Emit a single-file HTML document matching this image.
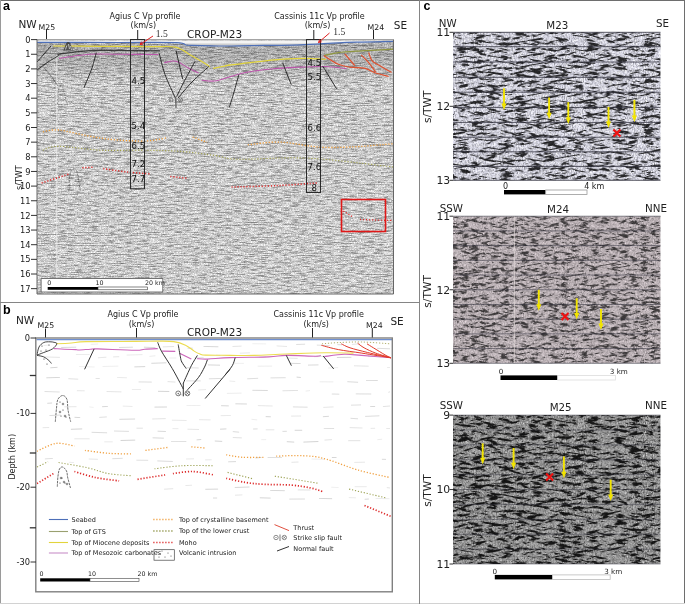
<!DOCTYPE html>
<html><head><meta charset="utf-8"><title>Figure</title>
<style>html,body{margin:0;padding:0;background:#fff;} svg{display:block;}</style>
</head><body>
<svg width="685" height="604" viewBox="0 0 685 604" font-family="'DejaVu Sans', 'Liberation Sans', sans-serif"><defs><filter id="fa" x="0" y="0" width="1" height="1" color-interpolation-filters="sRGB">
<feTurbulence type="fractalNoise" baseFrequency="0.12 0.9" numOctaves="3" seed="7"/>
<feColorMatrix type="matrix" values="1 0 0 0 0  1 0 0 0 0  1 0 0 0 0  0 0 0 0 1"/>
<feComponentTransfer result="base"><feFuncR type="table" tableValues="0.450 0.475 0.500 0.525 0.550 0.575 0.600 0.650 0.700 0.750 0.800 0.825 0.850 0.875 0.900 0.905 0.910 0.915 0.920 0.925 0.930"/><feFuncG type="table" tableValues="0.450 0.475 0.500 0.525 0.550 0.575 0.600 0.650 0.700 0.750 0.800 0.825 0.850 0.875 0.900 0.905 0.910 0.915 0.920 0.925 0.930"/><feFuncB type="table" tableValues="0.450 0.475 0.500 0.525 0.550 0.575 0.600 0.650 0.700 0.750 0.800 0.825 0.850 0.875 0.900 0.905 0.910 0.915 0.920 0.925 0.930"/></feComponentTransfer>
<feTurbulence type="fractalNoise" baseFrequency="0.7 1.0" numOctaves="2" seed="4"/>
<feColorMatrix type="matrix" values="1 0 0 0 0  1 0 0 0 0  1 0 0 0 0  0 0 0 0 1" result="n2"/>
<feComposite in="base" in2="n2" operator="arithmetic" k1="0.6" k2="0.7" k3="0" k4="0"/>
<feColorMatrix type="matrix" values="1 0 0 0 0  0 1 0 0 0  0 0 1 0 0  0 0 0 0 1"/>
</filter><filter id="fc1a" x="0" y="0" width="1" height="1" color-interpolation-filters="sRGB">
<feTurbulence type="fractalNoise" baseFrequency="0.07 0.4" numOctaves="3" seed="11"/>
<feColorMatrix type="matrix" values="1 0 0 0 0  1 0 0 0 0  1 0 0 0 0  0 0 0 0 1"/>
<feComponentTransfer result="base"><feFuncR type="table" tableValues="0.150 0.150 0.150 0.150 0.150 0.150 0.150 0.200 0.714 0.855 0.880 0.882 0.884 0.886 0.888 0.890 0.892 0.894 0.896 0.898 0.900"/><feFuncG type="table" tableValues="0.150 0.150 0.150 0.150 0.150 0.150 0.150 0.200 0.714 0.855 0.880 0.882 0.884 0.886 0.888 0.890 0.892 0.894 0.896 0.898 0.900"/><feFuncB type="table" tableValues="0.159 0.159 0.159 0.159 0.159 0.159 0.159 0.212 0.757 0.906 0.933 0.935 0.937 0.939 0.941 0.943 0.946 0.948 0.950 0.952 0.954"/></feComponentTransfer>
<feTurbulence type="fractalNoise" baseFrequency="0.9 0.6" numOctaves="2" seed="3"/>
<feColorMatrix type="matrix" values="1 0 0 0 0  1 0 0 0 0  1 0 0 0 0  0 0 0 0 1" result="n2"/>
<feComposite in="base" in2="n2" operator="arithmetic" k1="1.4" k2="0.30000000000000004" k3="0" k4="0"/>
<feColorMatrix type="matrix" values="1 0 0 0 0  0 1 0 0 0  0 0 1 0 0  0 0 0 0 1"/>
</filter><filter id="fc1b" x="0" y="0" width="1" height="1" color-interpolation-filters="sRGB">
<feTurbulence type="fractalNoise" baseFrequency="0.07 0.4" numOctaves="3" seed="12"/>
<feColorMatrix type="matrix" values="1 0 0 0 0  1 0 0 0 0  1 0 0 0 0  0 0 0 0 1"/>
<feComponentTransfer result="base"><feFuncR type="table" tableValues="0.150 0.150 0.150 0.150 0.150 0.150 0.150 0.200 0.714 0.855 0.880 0.882 0.884 0.886 0.888 0.890 0.892 0.894 0.896 0.898 0.900"/><feFuncG type="table" tableValues="0.150 0.150 0.150 0.150 0.150 0.150 0.150 0.200 0.714 0.855 0.880 0.882 0.884 0.886 0.888 0.890 0.892 0.894 0.896 0.898 0.900"/><feFuncB type="table" tableValues="0.159 0.159 0.159 0.159 0.159 0.159 0.159 0.212 0.757 0.906 0.933 0.935 0.937 0.939 0.941 0.943 0.946 0.948 0.950 0.952 0.954"/></feComponentTransfer>
<feTurbulence type="fractalNoise" baseFrequency="0.9 0.6" numOctaves="2" seed="4"/>
<feColorMatrix type="matrix" values="1 0 0 0 0  1 0 0 0 0  1 0 0 0 0  0 0 0 0 1" result="n2"/>
<feComposite in="base" in2="n2" operator="arithmetic" k1="1.4" k2="0.30000000000000004" k3="0" k4="0"/>
<feColorMatrix type="matrix" values="1 0 0 0 0  0 1 0 0 0  0 0 1 0 0  0 0 0 0 1"/>
</filter><filter id="fc2a" x="0" y="0" width="1" height="1" color-interpolation-filters="sRGB">
<feTurbulence type="fractalNoise" baseFrequency="0.1 0.45" numOctaves="4" seed="5"/>
<feColorMatrix type="matrix" values="1 0 0 0 0  1 0 0 0 0  1 0 0 0 0  0 0 0 0 1"/>
<feComponentTransfer result="base"><feFuncR type="table" tableValues="0.240 0.240 0.240 0.240 0.240 0.240 0.248 0.357 0.671 0.748 0.775 0.776 0.777 0.778 0.779 0.780 0.781 0.782 0.783 0.784 0.785"/><feFuncG type="table" tableValues="0.228 0.228 0.228 0.228 0.228 0.228 0.236 0.339 0.638 0.710 0.736 0.737 0.738 0.739 0.740 0.741 0.742 0.743 0.744 0.745 0.746"/><feFuncB type="table" tableValues="0.233 0.233 0.233 0.233 0.233 0.233 0.241 0.346 0.651 0.725 0.752 0.753 0.754 0.755 0.756 0.757 0.758 0.759 0.760 0.760 0.761"/></feComponentTransfer>
<feTurbulence type="fractalNoise" baseFrequency="0.9 0.6" numOctaves="2" seed="9"/>
<feColorMatrix type="matrix" values="1 0 0 0 0  1 0 0 0 0  1 0 0 0 0  0 0 0 0 1" result="n2"/>
<feComposite in="base" in2="n2" operator="arithmetic" k1="1.0" k2="0.5" k3="0" k4="0"/>
<feColorMatrix type="matrix" values="1 0 0 0 0  0 1 0 0 0  0 0 1 0 0  0 0 0 0 1"/>
</filter><filter id="fc2b" x="0" y="0" width="1" height="1" color-interpolation-filters="sRGB">
<feTurbulence type="fractalNoise" baseFrequency="0.1 0.45" numOctaves="4" seed="6"/>
<feColorMatrix type="matrix" values="1 0 0 0 0  1 0 0 0 0  1 0 0 0 0  0 0 0 0 1"/>
<feComponentTransfer result="base"><feFuncR type="table" tableValues="0.240 0.240 0.240 0.240 0.240 0.240 0.248 0.357 0.671 0.748 0.775 0.776 0.777 0.778 0.779 0.780 0.781 0.782 0.783 0.784 0.785"/><feFuncG type="table" tableValues="0.228 0.228 0.228 0.228 0.228 0.228 0.236 0.339 0.638 0.710 0.736 0.737 0.738 0.739 0.740 0.741 0.742 0.743 0.744 0.745 0.746"/><feFuncB type="table" tableValues="0.233 0.233 0.233 0.233 0.233 0.233 0.241 0.346 0.651 0.725 0.752 0.753 0.754 0.755 0.756 0.757 0.758 0.759 0.760 0.760 0.761"/></feComponentTransfer>
<feTurbulence type="fractalNoise" baseFrequency="0.9 0.6" numOctaves="2" seed="10"/>
<feColorMatrix type="matrix" values="1 0 0 0 0  1 0 0 0 0  1 0 0 0 0  0 0 0 0 1" result="n2"/>
<feComposite in="base" in2="n2" operator="arithmetic" k1="1.0" k2="0.5" k3="0" k4="0"/>
<feColorMatrix type="matrix" values="1 0 0 0 0  0 1 0 0 0  0 0 1 0 0  0 0 0 0 1"/>
</filter><filter id="fc3a" x="0" y="0" width="1" height="1" color-interpolation-filters="sRGB">
<feTurbulence type="fractalNoise" baseFrequency="0.07 0.36" numOctaves="4" seed="21"/>
<feColorMatrix type="matrix" values="1 0 0 0 0  1 0 0 0 0  1 0 0 0 0  0 0 0 0 1"/>
<feComponentTransfer result="base"><feFuncR type="table" tableValues="0.080 0.080 0.080 0.080 0.080 0.080 0.080 0.120 0.489 0.603 0.640 0.642 0.644 0.646 0.648 0.650 0.652 0.654 0.656 0.658 0.660"/><feFuncG type="table" tableValues="0.080 0.080 0.080 0.080 0.080 0.080 0.080 0.120 0.489 0.603 0.640 0.642 0.644 0.646 0.648 0.650 0.652 0.654 0.656 0.658 0.660"/><feFuncB type="table" tableValues="0.080 0.080 0.080 0.080 0.080 0.080 0.080 0.120 0.489 0.603 0.640 0.642 0.644 0.646 0.648 0.650 0.652 0.654 0.656 0.658 0.660"/></feComponentTransfer>
<feTurbulence type="fractalNoise" baseFrequency="0.9 0.6" numOctaves="2" seed="13"/>
<feColorMatrix type="matrix" values="1 0 0 0 0  1 0 0 0 0  1 0 0 0 0  0 0 0 0 1" result="n2"/>
<feComposite in="base" in2="n2" operator="arithmetic" k1="1.7" k2="0.15000000000000002" k3="0" k4="0"/>
<feColorMatrix type="matrix" values="1 0 0 0 0  0 1 0 0 0  0 0 1 0 0  0 0 0 0 1"/>
</filter><filter id="fc3b" x="0" y="0" width="1" height="1" color-interpolation-filters="sRGB">
<feTurbulence type="fractalNoise" baseFrequency="0.07 0.36" numOctaves="4" seed="23"/>
<feColorMatrix type="matrix" values="1 0 0 0 0  1 0 0 0 0  1 0 0 0 0  0 0 0 0 1"/>
<feComponentTransfer result="base"><feFuncR type="table" tableValues="0.080 0.080 0.080 0.080 0.080 0.080 0.080 0.120 0.489 0.603 0.640 0.642 0.644 0.646 0.648 0.650 0.652 0.654 0.656 0.658 0.660"/><feFuncG type="table" tableValues="0.080 0.080 0.080 0.080 0.080 0.080 0.080 0.120 0.489 0.603 0.640 0.642 0.644 0.646 0.648 0.650 0.652 0.654 0.656 0.658 0.660"/><feFuncB type="table" tableValues="0.080 0.080 0.080 0.080 0.080 0.080 0.080 0.120 0.489 0.603 0.640 0.642 0.644 0.646 0.648 0.650 0.652 0.654 0.656 0.658 0.660"/></feComponentTransfer>
<feTurbulence type="fractalNoise" baseFrequency="0.9 0.6" numOctaves="2" seed="15"/>
<feColorMatrix type="matrix" values="1 0 0 0 0  1 0 0 0 0  1 0 0 0 0  0 0 0 0 1" result="n2"/>
<feComposite in="base" in2="n2" operator="arithmetic" k1="1.7" k2="0.15000000000000002" k3="0" k4="0"/>
<feColorMatrix type="matrix" values="1 0 0 0 0  0 1 0 0 0  0 0 1 0 0  0 0 0 0 1"/>
</filter><clipPath id="cp1"><rect x="453" y="32.3" width="207.5" height="148"/></clipPath><clipPath id="cp2"><rect x="453" y="216.2" width="207.5" height="147.1"/></clipPath><clipPath id="cp3"><rect x="453" y="415.1" width="207.5" height="148.9"/></clipPath></defs><line x1="0" y1="0.5" x2="685" y2="0.5" stroke="#6e6e6e" stroke-width="1" />
<line x1="684.5" y1="0" x2="684.5" y2="604" stroke="#6e6e6e" stroke-width="1" />
<line x1="0.5" y1="0" x2="0.5" y2="604" stroke="#9a9a9a" stroke-width="1" />
<line x1="0" y1="603.5" x2="685" y2="603.5" stroke="#d2d2d2" stroke-width="1" />
<line x1="419.5" y1="0" x2="419.5" y2="604" stroke="#858585" stroke-width="1" />
<line x1="0" y1="302.5" x2="419.5" y2="302.5" stroke="#858585" stroke-width="1" />
<text x="3" y="10.3" font-size="12.5" text-anchor="start" font-weight="bold" fill="#000" font-family="Liberation Sans, sans-serif">a</text>
<text x="18.4" y="28.4" font-size="10.5" text-anchor="start" font-weight="normal" fill="#222" >NW</text>
<text x="38.5" y="29.8" font-size="7.8" text-anchor="start" font-weight="normal" fill="#222" >M25</text>
<line x1="46.5" y1="30" x2="46.5" y2="39.5" stroke="#222" stroke-width="1" />
<text x="145" y="19" font-size="8" text-anchor="middle" font-weight="normal" fill="#222" >Agius C Vp profile</text>
<text x="143.3" y="27.5" font-size="8" text-anchor="middle" font-weight="normal" fill="#222" >(km/s)</text>
<line x1="137.7" y1="30" x2="137.7" y2="39.5" stroke="#222" stroke-width="1" />
<text x="155.8" y="36.7" font-size="9.6" text-anchor="start" font-weight="normal" fill="#333" font-family="Liberation Serif, serif">1.5</text>
<text x="187" y="37.8" font-size="10.5" text-anchor="start" font-weight="normal" fill="#222" >CROP-M23</text>
<text x="319.5" y="18.5" font-size="8" text-anchor="middle" font-weight="normal" fill="#222" >Cassinis 11c Vp profile</text>
<text x="317.5" y="27.5" font-size="8" text-anchor="middle" font-weight="normal" fill="#222" >(km/s)</text>
<line x1="313.8" y1="30" x2="313.8" y2="39.5" stroke="#222" stroke-width="1" />
<text x="333.3" y="34.9" font-size="9.6" text-anchor="start" font-weight="normal" fill="#333" font-family="Liberation Serif, serif">1.5</text>
<text x="367.5" y="29.5" font-size="7.8" text-anchor="start" font-weight="normal" fill="#222" >M24</text>
<line x1="373.5" y1="30" x2="373.5" y2="39.5" stroke="#222" stroke-width="1" />
<text x="393.8" y="28.8" font-size="10.5" text-anchor="start" font-weight="normal" fill="#222" >SE</text>
<rect x="37" y="40.2" width="356.5" height="253.8" filter="url(#fa)"/>
<path d="M37 40.5H393V41.2C370 41.5 350 42.5 338 42.7C325 43.5 315 44.3 300 44.8C270 45.5 240 46 225 46C210 46 195 45.5 191 45.3C185 44 180 43 176.7 42.4H37Z" fill="#f4f4f4"/>
<linearGradient id="gtop" x1="0" y1="0" x2="0" y2="1"><stop offset="0" stop-color="#000" stop-opacity="0.16"/><stop offset="0.5" stop-color="#000" stop-opacity="0.12"/><stop offset="1" stop-color="#000" stop-opacity="0"/></linearGradient>
<rect x="37" y="43.5" width="356.5" height="40" fill="url(#gtop)"/>
<line x1="56.8" y1="55" x2="56.8" y2="292" stroke="#f2f2f2" stroke-width="1" opacity="0.8"/>
<line x1="37" y1="39.6" x2="393.5" y2="39.6" stroke="#a4a4a4" stroke-width="1.2" />
<path d="M37 42.4C50.8 42.4 96.8 42.5 120 42.5C143.2 42.5 165.3 42.2 176.3 42.6C187.3 43 183.3 44.5 185.8 45C188.3 45.5 184.8 45.1 191.3 45.3C197.8 45.5 215.2 46 225 46C234.8 46 237.5 45.8 250 45.6C262.5 45.4 285.3 45.3 300 44.8C314.7 44.3 328.1 43.2 338.4 42.8C348.7 42.3 352.6 42.3 361.7 42.1C370.8 41.9 387.8 41.5 393 41.4" fill="none" stroke="#4d6fb8" stroke-width="1.2" />
<path d="M53.2 46C61 46 83.9 46.2 100 46.3C116.1 46.4 137.4 46.6 150 46.7C162.6 46.9 168.6 45.7 175.5 47.2C182.4 48.7 186 52.5 191.3 55.5C196.6 58.5 204.4 63 207.4 65C210.4 67 209.2 66.8 209.6 67.2" fill="none" stroke="#e2d43c" stroke-width="1.2" />
<path d="M213.2 68.4L230 65" fill="none" stroke="#e2d43c" stroke-width="1.2" />
<path d="M225 65.7C229.9 65.1 244.5 63.2 254.2 62.1C263.9 61 274.9 59.8 283.4 59.2C291.9 58.6 298.2 58.4 305.3 58.4C312.4 58.4 322.6 59.2 326 59.4" fill="none" stroke="#e2d43c" stroke-width="1.2" />
<path d="M57.4 54.3C61 53.8 72.3 52.3 78.8 51.6C85.3 50.9 87.8 50.5 96.3 50.3C104.8 50.1 119.4 50.5 130 50.6C140.6 50.7 155 50.8 160 50.8" fill="none" stroke="#222" stroke-width="1.3" opacity="0.8"/>
<path d="M59 58.4C62.3 57.9 72.6 56.2 78.8 55.5C85 54.8 86.9 54.2 96.3 54C105.7 53.8 124.6 54.3 135 54.4C145.4 54.5 154.6 54.5 158.5 54.5" fill="none" stroke="#bb55aa" stroke-width="1.1" />
<path d="M164.3 62.8C165.6 62.5 170 61.1 172.3 61C174.6 60.9 175.5 60.8 178.2 62C180.9 63.2 185 66.2 188.4 68C191.8 69.8 196.9 72.2 198.6 73" fill="none" stroke="#bb55aa" stroke-width="1.1" />
<path d="M201.5 80.3C203.7 80.4 209.9 81.6 214.7 81C219.4 80.4 224.6 78.2 230 76.7C235.4 75.2 239.7 73.6 246.9 72.3C254.1 71 264.7 69.5 273.2 68.7C281.7 67.9 289.4 67.6 298 67.2C306.6 66.8 316.9 66.3 325 66.5C333.1 66.7 342.9 68.2 346.5 68.6" fill="none" stroke="#bb55aa" stroke-width="1.1" />
<path d="M324.3 55.5C326.6 55 332.2 53.4 338.4 52.6C344.6 51.8 352.6 51.4 361.7 50.8C370.8 50.2 387.8 49.4 393 49.1" fill="none" stroke="#8f9640" stroke-width="1.3" />
<path d="M323.8 55.5C326.2 57 334 62.3 338.4 64.3C342.8 66.2 345.5 66.5 350 67.2C354.5 67.9 360.9 67.4 365.2 68.4C369.5 69.4 371.8 71.7 375.7 73C379.6 74.3 386.5 75.9 388.6 76.5" fill="none" stroke="#e0502e" stroke-width="1.2" />
<path d="M344.8 53.8L354.7 65.5" fill="none" stroke="#e0502e" stroke-width="1.2" />
<path d="M361.1 54.9C362.2 56 365.2 58.6 367.6 61.4C370 64.2 374.4 70.2 375.7 71.9" fill="none" stroke="#e0502e" stroke-width="1.2" />
<path d="M368.7 52.6C369.3 54 370.2 58.6 372.2 60.8C374.1 63 377.2 64 380.4 66C383.6 68 389.6 71.4 391.5 72.5" fill="none" stroke="#e0502e" stroke-width="1.2" />
<path d="M37 62C38.2 60.7 41.7 56.7 44 54C46.3 51.3 49.8 47.3 51 46" fill="none" stroke="#2a2a2a" stroke-width="1" />
<path d="M37 70C38.8 68.7 44.6 64.3 48 62C51.4 59.7 55.8 57.4 57.6 56.2C59.4 55 58.8 55 59 54.8" fill="none" stroke="#2a2a2a" stroke-width="1" />
<path d="M96.3 52.6C95.6 55.2 94 62.2 92 68C90 73.8 85.3 84.3 84 87.6" fill="none" stroke="#2a2a2a" stroke-width="1" />
<path d="M44 68C45.2 69.3 48.7 73 51 76C53.3 79 56.8 84.3 58 86" fill="none" stroke="#2a2a2a" stroke-width="0.8" opacity="0.6"/>
<path d="M159.2 53.3C160.2 56.8 162.3 67.1 165 74.5C167.7 81.9 173.6 94 175.3 97.9" fill="none" stroke="#2a2a2a" stroke-width="1" />
<path d="M176 50.4L182.6 78.9" fill="none" stroke="#2a2a2a" stroke-width="1" />
<path d="M195 61.4C193.5 64.2 189.1 72.2 186 78C182.9 83.8 178.2 93.3 176.7 96.4" fill="none" stroke="#2a2a2a" stroke-width="1" />
<path d="M208.8 66.5C206 69.1 197.1 76.8 192 82C186.9 87.2 180.5 95.2 178.2 97.9" fill="none" stroke="#2a2a2a" stroke-width="1" />
<line x1="175.8" y1="97.5" x2="176" y2="108" stroke="#2a2a2a" stroke-width="0.9" />
<circle cx="171" cy="100" r="2" fill="none" stroke="#444" stroke-width="0.6"/><circle cx="171" cy="100" r="0.5" fill="#444"/><circle cx="180.6" cy="100" r="2" fill="none" stroke="#444" stroke-width="0.6"/><path d="M179.3 98.7L181.9 101.3M181.9 98.7L179.3 101.3" stroke="#444" stroke-width="0.5"/>
<path d="M238.9 74.5C238.1 77.4 235.6 86.5 234 92C232.4 97.5 230.2 104.8 229.4 107.3" fill="none" stroke="#2a2a2a" stroke-width="1" />
<path d="M282.7 62.8C283.4 64.7 285.6 70.3 287 74C288.4 77.7 290.7 82.9 291.4 84.7" fill="none" stroke="#2a2a2a" stroke-width="1" />
<path d="M322.6 66C323.8 68 327.7 74.2 330 78C332.3 81.8 335.5 87 336.6 88.8" fill="none" stroke="#2a2a2a" stroke-width="1" />
<path d="M63.5 50.5C64.5 47 65.5 44 67 42.3C68 41.8 69.5 42 70.3 43.5C71.2 45.5 72 48 72.8 50.5Z" fill="#3a3a3a" opacity="0.8"/>
<path d="M65.5 49.5L66.8 45.5M68.5 44L69.5 49M70.5 46L71.5 50" stroke="#ddd" stroke-width="0.8"/>
<path d="M57.5 104C57.7 101.7 58 93 58.5 90C59 87 59.8 86.3 60.5 86C61.2 85.7 62.1 85.7 63 88C63.9 90.3 65.3 97.3 66 100C66.7 102.7 66.8 103.3 67 104" fill="none" stroke="#333" stroke-width="0.8" opacity="0.5" stroke-dasharray="2 1.5"/>
<path d="M69 190C69.2 187.3 69.3 177.5 70 174C70.7 170.5 71.8 169.3 73 169C74.2 168.7 75.8 168.5 77 172C78.2 175.5 79.5 187 80 190" fill="none" stroke="#333" stroke-width="0.9" opacity="0.6" stroke-dasharray="2.5 1.2"/>
<path d="M42.9 131.8C45.5 131.5 51.2 129.3 58.6 130C66 130.7 78.3 134.2 87.5 135.8C96.7 137.4 104.1 138.8 113.8 139.7C123.5 140.6 136.6 141.3 145.4 141C154.2 140.7 162.9 138.4 166.4 137.9" fill="none" stroke="#f09a30" stroke-width="1.3" stroke-dasharray="1.2 1.8"/>
<path d="M192.6 137L207 142.3" fill="none" stroke="#f09a30" stroke-width="1.3" stroke-dasharray="1.2 1.8"/>
<path d="M247.8 144.8C253.2 144.4 268.5 141.7 280.2 142.1C291.9 142.5 306.3 146.2 318 147C329.7 147.8 337.9 147.5 350.4 147C362.9 146.5 385.9 144.3 393 143.8" fill="none" stroke="#f09a30" stroke-width="1.3" stroke-dasharray="1.2 1.8"/>
<path d="M42.9 150.2C45.5 149.5 49 146.3 58.6 146.3C68.2 146.3 86.2 149.5 100.7 150.2C115.2 150.8 131.8 150 145.4 150.2C159 150.4 170.4 150.6 182 151.5C193.6 152.4 205.8 154.2 215 155.5C224.2 156.8 224.3 158.8 237 159.2C249.7 159.6 276.6 157.8 291 157.8C305.4 157.8 311.7 158.3 323.4 159.2C335.1 160.1 349.6 161.9 361.2 163.2C372.8 164.5 387.7 166.4 393 167" fill="none" stroke="#a0a048" stroke-width="1.1" stroke-dasharray="1.2 1.8"/>
<path d="M41.6 183L69.2 173.9" fill="none" stroke="#dd2a2a" stroke-width="1.5" stroke-dasharray="1.2 1.8"/>
<path d="M82.3 167.8L92.8 167.3" fill="none" stroke="#dd2a2a" stroke-width="1.5" stroke-dasharray="1.2 1.8"/>
<path d="M103.3 168.6C107.2 169.2 119.1 171.1 127 172C134.9 172.9 146.7 173.6 150.6 173.9" fill="none" stroke="#dd2a2a" stroke-width="1.5" stroke-dasharray="1.2 1.8"/>
<path d="M170.3 176.5L187.4 178.3" fill="none" stroke="#dd2a2a" stroke-width="1.5" stroke-dasharray="1.2 1.8"/>
<path d="M231.6 187C239.2 186.8 263.1 186.3 277.5 185.6C291.9 184.9 311.2 183.3 318 182.9" fill="none" stroke="#dd2a2a" stroke-width="1.5" stroke-dasharray="1.2 1.8"/>
<path d="M343.3 211L352 216.5" fill="none" stroke="#dd2a2a" stroke-width="1.2" stroke-dasharray="1.2 1.8"/>
<path d="M360 219.5C362.5 219.6 369.5 219.8 375 220C380.5 220.2 390 220.4 393 220.5" fill="none" stroke="#dd2a2a" stroke-width="1.3" stroke-dasharray="1.2 1.8"/>
<rect x="130.5" y="39.5" width="14" height="149.3" fill="none" stroke="#2a2a2a" stroke-width="1" />
<rect x="306.5" y="39.5" width="14" height="153" fill="none" stroke="#2a2a2a" stroke-width="1" />
<text x="138.3" y="83.6" font-size="8.6" text-anchor="middle" font-weight="normal" fill="#111" >4.5</text>
<text x="138.3" y="128.9" font-size="8.6" text-anchor="middle" font-weight="normal" fill="#111" >5.4</text>
<text x="138.3" y="149" font-size="8.6" text-anchor="middle" font-weight="normal" fill="#111" >6.5</text>
<text x="138.3" y="167" font-size="8.6" text-anchor="middle" font-weight="normal" fill="#111" >7.2</text>
<text x="138.3" y="182.3" font-size="8.6" text-anchor="middle" font-weight="normal" fill="#111" >7.7</text>
<text x="314.3" y="65.8" font-size="8.6" text-anchor="middle" font-weight="normal" fill="#111" >4.5</text>
<text x="314.3" y="80.3" font-size="8.6" text-anchor="middle" font-weight="normal" fill="#111" >5.5</text>
<text x="314.3" y="131" font-size="8.6" text-anchor="middle" font-weight="normal" fill="#111" >6.6</text>
<text x="314.3" y="170.2" font-size="8.6" text-anchor="middle" font-weight="normal" fill="#111" >7.6</text>
<text x="314.3" y="191.3" font-size="8.6" text-anchor="middle" font-weight="normal" fill="#111" >8</text>
<line x1="153" y1="36" x2="140" y2="44.5" stroke="#e02020" stroke-width="1" />
<path d="M140 44.5L141.5 41.7M140 44.5L143.2 44.2" stroke="#e02020" stroke-width="1" fill="none"/>
<line x1="329.5" y1="33" x2="318.5" y2="42.5" stroke="#e02020" stroke-width="1" />
<path d="M318.5 42.5L319.6 39.5M318.5 42.5L321.6 41.8" stroke="#e02020" stroke-width="1" fill="none"/>
<rect x="341.5" y="199.5" width="44" height="32" fill="none" stroke="#e01818" stroke-width="1.6" />
<rect x="41.1" y="278.6" width="121.7" height="13.4" fill="#fff" stroke="#555" stroke-width="0.8" />
<rect x="47.7" y="287" width="50.3" height="2.8" fill="#000" stroke="none" stroke-width="1" />
<rect x="98" y="287" width="49.5" height="2.8" fill="#fff" stroke="#333" stroke-width="0.6" />
<text x="47.3" y="285.2" font-size="6.3" text-anchor="start" font-weight="normal" fill="#222" >0</text>
<text x="95.5" y="285.2" font-size="6.3" text-anchor="start" font-weight="normal" fill="#222" >10</text>
<text x="145" y="285.2" font-size="6.3" text-anchor="start" font-weight="normal" fill="#222" >20 km</text>
<path d="M37 39.5V294H393.5V39.5" fill="none" stroke="#666" stroke-width="1" />
<line x1="31" y1="39.6" x2="37" y2="39.6" stroke="#333" stroke-width="1" />
<text x="30.5" y="42.7" font-size="8.3" text-anchor="end" font-weight="normal" fill="#222" >0</text>
<line x1="31" y1="54.25" x2="37" y2="54.25" stroke="#333" stroke-width="1" />
<text x="30.5" y="57.35" font-size="8.3" text-anchor="end" font-weight="normal" fill="#222" >1</text>
<line x1="31" y1="68.9" x2="37" y2="68.9" stroke="#333" stroke-width="1" />
<text x="30.5" y="72.0" font-size="8.3" text-anchor="end" font-weight="normal" fill="#222" >2</text>
<line x1="31" y1="83.55000000000001" x2="37" y2="83.55000000000001" stroke="#333" stroke-width="1" />
<text x="30.5" y="86.65" font-size="8.3" text-anchor="end" font-weight="normal" fill="#222" >3</text>
<line x1="31" y1="98.2" x2="37" y2="98.2" stroke="#333" stroke-width="1" />
<text x="30.5" y="101.3" font-size="8.3" text-anchor="end" font-weight="normal" fill="#222" >4</text>
<line x1="31" y1="112.85" x2="37" y2="112.85" stroke="#333" stroke-width="1" />
<text x="30.5" y="115.94999999999999" font-size="8.3" text-anchor="end" font-weight="normal" fill="#222" >5</text>
<line x1="31" y1="127.5" x2="37" y2="127.5" stroke="#333" stroke-width="1" />
<text x="30.5" y="130.6" font-size="8.3" text-anchor="end" font-weight="normal" fill="#222" >6</text>
<line x1="31" y1="142.15" x2="37" y2="142.15" stroke="#333" stroke-width="1" />
<text x="30.5" y="145.25" font-size="8.3" text-anchor="end" font-weight="normal" fill="#222" >7</text>
<line x1="31" y1="156.8" x2="37" y2="156.8" stroke="#333" stroke-width="1" />
<text x="30.5" y="159.9" font-size="8.3" text-anchor="end" font-weight="normal" fill="#222" >8</text>
<line x1="31" y1="171.45" x2="37" y2="171.45" stroke="#333" stroke-width="1" />
<text x="30.5" y="174.54999999999998" font-size="8.3" text-anchor="end" font-weight="normal" fill="#222" >9</text>
<line x1="31" y1="186.1" x2="37" y2="186.1" stroke="#333" stroke-width="1" />
<text x="30.5" y="189.2" font-size="8.3" text-anchor="end" font-weight="normal" fill="#222" >10</text>
<line x1="31" y1="200.75" x2="37" y2="200.75" stroke="#333" stroke-width="1" />
<text x="30.5" y="203.85" font-size="8.3" text-anchor="end" font-weight="normal" fill="#222" >11</text>
<line x1="31" y1="215.4" x2="37" y2="215.4" stroke="#333" stroke-width="1" />
<text x="30.5" y="218.5" font-size="8.3" text-anchor="end" font-weight="normal" fill="#222" >12</text>
<line x1="31" y1="230.05" x2="37" y2="230.05" stroke="#333" stroke-width="1" />
<text x="30.5" y="233.15" font-size="8.3" text-anchor="end" font-weight="normal" fill="#222" >13</text>
<line x1="31" y1="244.7" x2="37" y2="244.7" stroke="#333" stroke-width="1" />
<text x="30.5" y="247.79999999999998" font-size="8.3" text-anchor="end" font-weight="normal" fill="#222" >14</text>
<line x1="31" y1="259.35" x2="37" y2="259.35" stroke="#333" stroke-width="1" />
<text x="30.5" y="262.45000000000005" font-size="8.3" text-anchor="end" font-weight="normal" fill="#222" >15</text>
<line x1="31" y1="274.0" x2="37" y2="274.0" stroke="#333" stroke-width="1" />
<text x="30.5" y="277.1" font-size="8.3" text-anchor="end" font-weight="normal" fill="#222" >16</text>
<line x1="31" y1="288.65000000000003" x2="37" y2="288.65000000000003" stroke="#333" stroke-width="1" />
<text x="30.5" y="291.75000000000006" font-size="8.3" text-anchor="end" font-weight="normal" fill="#222" >17</text>
<text x="0" y="0" font-size="8" text-anchor="middle" fill="#222" transform="translate(22.3,177.7) rotate(-90)">s/TWT</text>
<text x="3" y="314" font-size="12.5" text-anchor="start" font-weight="bold" fill="#000" font-family="Liberation Sans, sans-serif">b</text>
<text x="16" y="324" font-size="10.5" text-anchor="start" font-weight="normal" fill="#222" >NW</text>
<text x="37.5" y="328" font-size="7.8" text-anchor="start" font-weight="normal" fill="#222" >M25</text>
<line x1="45.5" y1="328.5" x2="45.5" y2="338" stroke="#222" stroke-width="1" />
<text x="143" y="317.3" font-size="8" text-anchor="middle" font-weight="normal" fill="#222" >Agius C Vp profile</text>
<text x="141.5" y="326.5" font-size="8" text-anchor="middle" font-weight="normal" fill="#222" >(km/s)</text>
<line x1="136.5" y1="328" x2="136.5" y2="338" stroke="#222" stroke-width="1" />
<text x="187" y="335.7" font-size="10.5" text-anchor="start" font-weight="normal" fill="#222" >CROP-M23</text>
<text x="318.7" y="316.9" font-size="8" text-anchor="middle" font-weight="normal" fill="#222" >Cassinis 11c Vp profile</text>
<text x="316.2" y="326.5" font-size="8" text-anchor="middle" font-weight="normal" fill="#222" >(km/s)</text>
<line x1="312.5" y1="328" x2="312.5" y2="338" stroke="#222" stroke-width="1" />
<text x="366" y="327.6" font-size="7.8" text-anchor="start" font-weight="normal" fill="#222" >M24</text>
<line x1="372.3" y1="328" x2="372.3" y2="338" stroke="#222" stroke-width="1" />
<text x="390.4" y="324.6" font-size="10.5" text-anchor="start" font-weight="normal" fill="#222" >SE</text>
<line x1="43.5" y1="345.5" x2="48.8" y2="345" stroke="#888" stroke-width="0.8" opacity="0.20"/>
<line x1="61.2" y1="347.5" x2="76.2" y2="347.2" stroke="#888" stroke-width="0.8" opacity="0.38"/>
<line x1="90.8" y1="344.4" x2="98.1" y2="344" stroke="#888" stroke-width="0.8" opacity="0.18"/>
<line x1="119" y1="347.5" x2="132.9" y2="347.2" stroke="#888" stroke-width="0.8" opacity="0.39"/>
<line x1="143.9" y1="347.2" x2="155.4" y2="347.6" stroke="#888" stroke-width="0.8" opacity="0.41"/>
<line x1="162.8" y1="346.9" x2="174.1" y2="346.5" stroke="#888" stroke-width="0.8" opacity="0.30"/>
<line x1="187.6" y1="348.2" x2="192.7" y2="348.2" stroke="#888" stroke-width="0.8" opacity="0.41"/>
<line x1="203.5" y1="346.4" x2="218.4" y2="346.8" stroke="#888" stroke-width="0.8" opacity="0.41"/>
<line x1="232.5" y1="346.5" x2="241.5" y2="346.1" stroke="#888" stroke-width="0.8" opacity="0.28"/>
<line x1="252.4" y1="343.7" x2="266.1" y2="343.9" stroke="#888" stroke-width="0.8" opacity="0.16"/>
<line x1="276.6" y1="345.9" x2="287" y2="346.5" stroke="#888" stroke-width="0.8" opacity="0.25"/>
<line x1="296.2" y1="344.5" x2="305.1" y2="344.2" stroke="#888" stroke-width="0.8" opacity="0.34"/>
<line x1="316.8" y1="345.1" x2="329.8" y2="345.6" stroke="#888" stroke-width="0.8" opacity="0.32"/>
<line x1="337.4" y1="344.6" x2="342.1" y2="344.8" stroke="#888" stroke-width="0.8" opacity="0.38"/>
<line x1="351.9" y1="344.4" x2="359.9" y2="343.8" stroke="#888" stroke-width="0.8" opacity="0.29"/>
<line x1="377.1" y1="348.3" x2="390" y2="348.8" stroke="#888" stroke-width="0.8" opacity="0.37"/>
<line x1="44.3" y1="356.9" x2="59.9" y2="357.4" stroke="#888" stroke-width="0.8" opacity="0.27"/>
<line x1="75.9" y1="354.5" x2="89.7" y2="354.4" stroke="#888" stroke-width="0.8" opacity="0.21"/>
<line x1="97.9" y1="357.8" x2="106.4" y2="357.2" stroke="#888" stroke-width="0.8" opacity="0.25"/>
<line x1="113.1" y1="356.9" x2="119.2" y2="356.7" stroke="#888" stroke-width="0.8" opacity="0.26"/>
<line x1="126.7" y1="355.1" x2="142.5" y2="354.6" stroke="#888" stroke-width="0.8" opacity="0.21"/>
<line x1="149.4" y1="356.4" x2="155.4" y2="355.8" stroke="#888" stroke-width="0.8" opacity="0.19"/>
<line x1="169.3" y1="358" x2="176.3" y2="358" stroke="#888" stroke-width="0.8" opacity="0.19"/>
<line x1="194.6" y1="357.9" x2="203.6" y2="357.6" stroke="#888" stroke-width="0.8" opacity="0.29"/>
<line x1="216.1" y1="355.1" x2="220.6" y2="355.6" stroke="#888" stroke-width="0.8" opacity="0.22"/>
<line x1="239.9" y1="353.2" x2="249.9" y2="352.8" stroke="#888" stroke-width="0.8" opacity="0.23"/>
<line x1="259.2" y1="357.3" x2="266" y2="356.8" stroke="#888" stroke-width="0.8" opacity="0.19"/>
<line x1="286.8" y1="358" x2="297.6" y2="358.4" stroke="#888" stroke-width="0.8" opacity="0.27"/>
<line x1="314.1" y1="356.7" x2="327.5" y2="356.2" stroke="#888" stroke-width="0.8" opacity="0.30"/>
<line x1="336.9" y1="357.5" x2="351.4" y2="357.3" stroke="#888" stroke-width="0.8" opacity="0.43"/>
<line x1="367.9" y1="356.2" x2="381.5" y2="356.2" stroke="#888" stroke-width="0.8" opacity="0.39"/>
<line x1="50.3" y1="367.8" x2="57.5" y2="367.3" stroke="#888" stroke-width="0.8" opacity="0.44"/>
<line x1="79" y1="366.5" x2="94.6" y2="367" stroke="#888" stroke-width="0.8" opacity="0.16"/>
<line x1="102.6" y1="366.5" x2="118.3" y2="366.1" stroke="#888" stroke-width="0.8" opacity="0.17"/>
<line x1="134.4" y1="366.9" x2="145.2" y2="366.6" stroke="#888" stroke-width="0.8" opacity="0.43"/>
<line x1="151.3" y1="363.3" x2="166.4" y2="362.8" stroke="#888" stroke-width="0.8" opacity="0.41"/>
<line x1="185.3" y1="367.6" x2="198.7" y2="368" stroke="#888" stroke-width="0.8" opacity="0.32"/>
<line x1="207.9" y1="364.9" x2="220" y2="365.2" stroke="#888" stroke-width="0.8" opacity="0.42"/>
<line x1="233.5" y1="363.3" x2="243.9" y2="363.4" stroke="#888" stroke-width="0.8" opacity="0.16"/>
<line x1="257.7" y1="366.2" x2="272.1" y2="366.1" stroke="#888" stroke-width="0.8" opacity="0.19"/>
<line x1="290.3" y1="363.3" x2="300.6" y2="363.6" stroke="#888" stroke-width="0.8" opacity="0.40"/>
<line x1="308" y1="365.1" x2="318.5" y2="364.9" stroke="#888" stroke-width="0.8" opacity="0.39"/>
<line x1="328.2" y1="368" x2="338.1" y2="367.6" stroke="#888" stroke-width="0.8" opacity="0.18"/>
<line x1="354" y1="365.8" x2="368.6" y2="366.2" stroke="#888" stroke-width="0.8" opacity="0.28"/>
<line x1="387.1" y1="367.6" x2="390" y2="367.4" stroke="#888" stroke-width="0.8" opacity="0.21"/>
<line x1="46.3" y1="377.8" x2="59.9" y2="377.4" stroke="#888" stroke-width="0.8" opacity="0.41"/>
<line x1="68.3" y1="378.7" x2="78.2" y2="379.2" stroke="#888" stroke-width="0.8" opacity="0.31"/>
<line x1="95.6" y1="378.6" x2="99.7" y2="378.5" stroke="#888" stroke-width="0.8" opacity="0.31"/>
<line x1="117.1" y1="377.4" x2="126.9" y2="377.8" stroke="#888" stroke-width="0.8" opacity="0.22"/>
<line x1="138.6" y1="381.9" x2="151.8" y2="382.1" stroke="#888" stroke-width="0.8" opacity="0.34"/>
<line x1="167.6" y1="381.6" x2="175.4" y2="382.1" stroke="#888" stroke-width="0.8" opacity="0.29"/>
<line x1="186.2" y1="380.9" x2="200.7" y2="380.9" stroke="#888" stroke-width="0.8" opacity="0.33"/>
<line x1="208.9" y1="378.8" x2="222.2" y2="378.4" stroke="#888" stroke-width="0.8" opacity="0.35"/>
<line x1="229.5" y1="381" x2="235.2" y2="381.5" stroke="#888" stroke-width="0.8" opacity="0.20"/>
<line x1="247.2" y1="378.8" x2="258.1" y2="378.3" stroke="#888" stroke-width="0.8" opacity="0.34"/>
<line x1="270.5" y1="377.9" x2="285.7" y2="377.7" stroke="#888" stroke-width="0.8" opacity="0.35"/>
<line x1="296.6" y1="377.1" x2="300.8" y2="377.5" stroke="#888" stroke-width="0.8" opacity="0.43"/>
<line x1="319.6" y1="381.8" x2="333.3" y2="381.9" stroke="#888" stroke-width="0.8" opacity="0.20"/>
<line x1="347.3" y1="381.7" x2="358.1" y2="382.3" stroke="#888" stroke-width="0.8" opacity="0.38"/>
<line x1="366" y1="380.4" x2="377.8" y2="380.5" stroke="#888" stroke-width="0.8" opacity="0.37"/>
<line x1="44.5" y1="391.5" x2="59.7" y2="392" stroke="#888" stroke-width="0.8" opacity="0.33"/>
<line x1="76.9" y1="390.7" x2="84.7" y2="390.8" stroke="#888" stroke-width="0.8" opacity="0.25"/>
<line x1="106.6" y1="391.5" x2="121.4" y2="391.9" stroke="#888" stroke-width="0.8" opacity="0.27"/>
<line x1="131.9" y1="389.6" x2="140.9" y2="389.6" stroke="#888" stroke-width="0.8" opacity="0.21"/>
<line x1="158" y1="391.3" x2="169.3" y2="391.5" stroke="#888" stroke-width="0.8" opacity="0.44"/>
<line x1="177.8" y1="394.4" x2="182.6" y2="394.9" stroke="#888" stroke-width="0.8" opacity="0.45"/>
<line x1="198.3" y1="390" x2="206" y2="389.6" stroke="#888" stroke-width="0.8" opacity="0.23"/>
<line x1="226.9" y1="393.4" x2="241.6" y2="393.1" stroke="#888" stroke-width="0.8" opacity="0.19"/>
<line x1="252.4" y1="390.3" x2="267.8" y2="390.5" stroke="#888" stroke-width="0.8" opacity="0.39"/>
<line x1="282.5" y1="390.8" x2="298" y2="390.4" stroke="#888" stroke-width="0.8" opacity="0.31"/>
<line x1="305.6" y1="391.1" x2="310" y2="390.6" stroke="#888" stroke-width="0.8" opacity="0.19"/>
<line x1="331.8" y1="394" x2="339.3" y2="394.2" stroke="#888" stroke-width="0.8" opacity="0.36"/>
<line x1="355.8" y1="393.9" x2="371.2" y2="394" stroke="#888" stroke-width="0.8" opacity="0.37"/>
<line x1="388.3" y1="392.3" x2="390" y2="391.8" stroke="#888" stroke-width="0.8" opacity="0.30"/>
<line x1="47.3" y1="403.3" x2="52.1" y2="403" stroke="#888" stroke-width="0.8" opacity="0.41"/>
<line x1="64.3" y1="406.8" x2="76.5" y2="406.7" stroke="#888" stroke-width="0.8" opacity="0.25"/>
<line x1="89.3" y1="406.9" x2="93.6" y2="407.4" stroke="#888" stroke-width="0.8" opacity="0.16"/>
<line x1="102.1" y1="406.7" x2="107.9" y2="406.4" stroke="#888" stroke-width="0.8" opacity="0.40"/>
<line x1="122.8" y1="406.1" x2="132.5" y2="406.5" stroke="#888" stroke-width="0.8" opacity="0.21"/>
<line x1="154.5" y1="407.1" x2="166.9" y2="407" stroke="#888" stroke-width="0.8" opacity="0.43"/>
<line x1="186.5" y1="405.4" x2="200.5" y2="405.6" stroke="#888" stroke-width="0.8" opacity="0.18"/>
<line x1="221.1" y1="405.7" x2="228.8" y2="405.9" stroke="#888" stroke-width="0.8" opacity="0.42"/>
<line x1="235.4" y1="403.8" x2="246.9" y2="404" stroke="#888" stroke-width="0.8" opacity="0.41"/>
<line x1="257.9" y1="405.6" x2="272.6" y2="406" stroke="#888" stroke-width="0.8" opacity="0.25"/>
<line x1="292.9" y1="406.9" x2="307.6" y2="407.2" stroke="#888" stroke-width="0.8" opacity="0.35"/>
<line x1="323.3" y1="407.4" x2="333.6" y2="406.9" stroke="#888" stroke-width="0.8" opacity="0.26"/>
<line x1="351" y1="405.2" x2="361" y2="404.9" stroke="#888" stroke-width="0.8" opacity="0.33"/>
<line x1="370.2" y1="406.4" x2="375.1" y2="406.6" stroke="#888" stroke-width="0.8" opacity="0.42"/>
<line x1="382.9" y1="406.6" x2="390" y2="406" stroke="#888" stroke-width="0.8" opacity="0.30"/>
<line x1="49.4" y1="415.6" x2="60.8" y2="415" stroke="#888" stroke-width="0.8" opacity="0.37"/>
<line x1="74.5" y1="417.3" x2="80.2" y2="417.6" stroke="#888" stroke-width="0.8" opacity="0.42"/>
<line x1="99.3" y1="417.4" x2="106.8" y2="416.9" stroke="#888" stroke-width="0.8" opacity="0.33"/>
<line x1="119.4" y1="419.3" x2="135.1" y2="419" stroke="#888" stroke-width="0.8" opacity="0.41"/>
<line x1="152.2" y1="419" x2="165.7" y2="418.6" stroke="#888" stroke-width="0.8" opacity="0.28"/>
<line x1="171.9" y1="420.2" x2="186.6" y2="420.5" stroke="#888" stroke-width="0.8" opacity="0.23"/>
<line x1="199.1" y1="419.7" x2="210.6" y2="419.9" stroke="#888" stroke-width="0.8" opacity="0.25"/>
<line x1="220.7" y1="415.7" x2="230.9" y2="415.4" stroke="#888" stroke-width="0.8" opacity="0.23"/>
<line x1="251.5" y1="419.3" x2="257.1" y2="419.9" stroke="#888" stroke-width="0.8" opacity="0.18"/>
<line x1="265.7" y1="416.6" x2="270.8" y2="416.8" stroke="#888" stroke-width="0.8" opacity="0.43"/>
<line x1="291.1" y1="416.1" x2="301.1" y2="416" stroke="#888" stroke-width="0.8" opacity="0.25"/>
<line x1="322.9" y1="416.7" x2="328.9" y2="416.3" stroke="#888" stroke-width="0.8" opacity="0.40"/>
<line x1="350.5" y1="418.3" x2="358" y2="418.8" stroke="#888" stroke-width="0.8" opacity="0.35"/>
<line x1="365.2" y1="416.4" x2="379.4" y2="415.8" stroke="#888" stroke-width="0.8" opacity="0.37"/>
<line x1="42.7" y1="427.7" x2="49.2" y2="427.5" stroke="#888" stroke-width="0.8" opacity="0.25"/>
<line x1="70.9" y1="429.3" x2="82.2" y2="428.9" stroke="#888" stroke-width="0.8" opacity="0.45"/>
<line x1="91.6" y1="432.3" x2="107.1" y2="432.8" stroke="#888" stroke-width="0.8" opacity="0.36"/>
<line x1="114" y1="431" x2="128.9" y2="431.4" stroke="#888" stroke-width="0.8" opacity="0.35"/>
<line x1="136.5" y1="428.2" x2="142.9" y2="428.2" stroke="#888" stroke-width="0.8" opacity="0.29"/>
<line x1="157.6" y1="431.2" x2="165.9" y2="431.5" stroke="#888" stroke-width="0.8" opacity="0.40"/>
<line x1="172.5" y1="428.6" x2="178.4" y2="428.7" stroke="#888" stroke-width="0.8" opacity="0.22"/>
<line x1="187.5" y1="429.2" x2="199" y2="429.5" stroke="#888" stroke-width="0.8" opacity="0.26"/>
<line x1="220.1" y1="429.2" x2="226.4" y2="428.9" stroke="#888" stroke-width="0.8" opacity="0.44"/>
<line x1="232.8" y1="431.6" x2="239.1" y2="432.2" stroke="#888" stroke-width="0.8" opacity="0.37"/>
<line x1="253.1" y1="429" x2="257.6" y2="428.9" stroke="#888" stroke-width="0.8" opacity="0.37"/>
<line x1="265.8" y1="429.8" x2="274.3" y2="429.8" stroke="#888" stroke-width="0.8" opacity="0.26"/>
<line x1="282.5" y1="431.4" x2="286.8" y2="431.3" stroke="#888" stroke-width="0.8" opacity="0.37"/>
<line x1="294.7" y1="430.3" x2="302.2" y2="430.3" stroke="#888" stroke-width="0.8" opacity="0.42"/>
<line x1="323.8" y1="428.4" x2="334.1" y2="428.5" stroke="#888" stroke-width="0.8" opacity="0.33"/>
<line x1="349.7" y1="427.6" x2="362.4" y2="428" stroke="#888" stroke-width="0.8" opacity="0.28"/>
<line x1="370.6" y1="428.4" x2="375.1" y2="428.3" stroke="#888" stroke-width="0.8" opacity="0.24"/>
<line x1="386.2" y1="428.4" x2="390" y2="428.6" stroke="#888" stroke-width="0.8" opacity="0.25"/>
<line x1="74.4" y1="438.8" x2="89.6" y2="438.8" stroke="#888" stroke-width="0.8" opacity="0.25"/>
<line x1="104.3" y1="441.8" x2="112.7" y2="441.8" stroke="#888" stroke-width="0.8" opacity="0.21"/>
<line x1="120.6" y1="440.5" x2="135.2" y2="440.1" stroke="#888" stroke-width="0.8" opacity="0.45"/>
<line x1="152.6" y1="437.8" x2="163.8" y2="438.2" stroke="#888" stroke-width="0.8" opacity="0.40"/>
<line x1="171" y1="441.4" x2="186.3" y2="441.5" stroke="#888" stroke-width="0.8" opacity="0.33"/>
<line x1="196.6" y1="439.9" x2="201.2" y2="439.5" stroke="#888" stroke-width="0.8" opacity="0.41"/>
<line x1="214.8" y1="441" x2="222.2" y2="441.4" stroke="#888" stroke-width="0.8" opacity="0.44"/>
<line x1="232.8" y1="437.5" x2="241.8" y2="437.9" stroke="#888" stroke-width="0.8" opacity="0.31"/>
<line x1="261.3" y1="439.7" x2="266.2" y2="439.6" stroke="#888" stroke-width="0.8" opacity="0.17"/>
<line x1="286.8" y1="441.7" x2="294.2" y2="442.1" stroke="#888" stroke-width="0.8" opacity="0.44"/>
<line x1="303.4" y1="442.1" x2="318.4" y2="441.5" stroke="#888" stroke-width="0.8" opacity="0.45"/>
<line x1="324.5" y1="440.1" x2="332" y2="439.6" stroke="#888" stroke-width="0.8" opacity="0.28"/>
<line x1="348.2" y1="440.7" x2="360.3" y2="440.7" stroke="#888" stroke-width="0.8" opacity="0.30"/>
<line x1="377.3" y1="439.7" x2="382.1" y2="439.2" stroke="#888" stroke-width="0.8" opacity="0.19"/>
<line x1="44.9" y1="458.9" x2="52.9" y2="458.4" stroke="#888" stroke-width="0.8" opacity="0.33"/>
<line x1="69.2" y1="462.3" x2="74" y2="462.6" stroke="#888" stroke-width="0.8" opacity="0.20"/>
<line x1="88.8" y1="459" x2="97.9" y2="459.3" stroke="#888" stroke-width="0.8" opacity="0.26"/>
<line x1="112.3" y1="458.7" x2="122.7" y2="458.3" stroke="#888" stroke-width="0.8" opacity="0.34"/>
<line x1="136.4" y1="460.2" x2="148.2" y2="460.3" stroke="#888" stroke-width="0.8" opacity="0.32"/>
<line x1="157.3" y1="460.9" x2="172.8" y2="461.5" stroke="#888" stroke-width="0.8" opacity="0.37"/>
<line x1="186.1" y1="459" x2="194" y2="458.8" stroke="#888" stroke-width="0.8" opacity="0.24"/>
<line x1="205.1" y1="459.9" x2="211.6" y2="459.8" stroke="#888" stroke-width="0.8" opacity="0.24"/>
<line x1="228.2" y1="461.8" x2="236" y2="461.6" stroke="#888" stroke-width="0.8" opacity="0.39"/>
<line x1="255.4" y1="458" x2="261.5" y2="457.4" stroke="#888" stroke-width="0.8" opacity="0.45"/>
<line x1="267.6" y1="457.5" x2="282" y2="457.6" stroke="#888" stroke-width="0.8" opacity="0.35"/>
<line x1="291.5" y1="462.3" x2="298.5" y2="462" stroke="#888" stroke-width="0.8" opacity="0.27"/>
<line x1="311.6" y1="459" x2="324.3" y2="459.3" stroke="#888" stroke-width="0.8" opacity="0.18"/>
<line x1="331.9" y1="457.5" x2="336.5" y2="457.4" stroke="#888" stroke-width="0.8" opacity="0.45"/>
<line x1="354.3" y1="462.4" x2="365" y2="462.2" stroke="#888" stroke-width="0.8" opacity="0.25"/>
<line x1="381.9" y1="459.3" x2="386" y2="459.4" stroke="#888" stroke-width="0.8" opacity="0.38"/>
<line x1="164.1" y1="489.2" x2="173.2" y2="488.7" stroke="#888" stroke-width="0.8" opacity="0.27"/>
<line x1="185.4" y1="485.6" x2="192" y2="485.2" stroke="#888" stroke-width="0.8" opacity="0.24"/>
<line x1="205.3" y1="489.3" x2="218.1" y2="489.1" stroke="#888" stroke-width="0.8" opacity="0.42"/>
<line x1="234.8" y1="487.5" x2="249.5" y2="487" stroke="#888" stroke-width="0.8" opacity="0.42"/>
<line x1="270.2" y1="490.4" x2="284.8" y2="490.7" stroke="#888" stroke-width="0.8" opacity="0.40"/>
<line x1="297.8" y1="489.9" x2="310.4" y2="490" stroke="#888" stroke-width="0.8" opacity="0.32"/>
<line x1="331.2" y1="487.2" x2="338.6" y2="487.6" stroke="#888" stroke-width="0.8" opacity="0.16"/>
<line x1="354.7" y1="486.7" x2="366.7" y2="486.7" stroke="#888" stroke-width="0.8" opacity="0.21"/>
<line x1="386.8" y1="487.6" x2="390" y2="488" stroke="#888" stroke-width="0.8" opacity="0.28"/>
<line x1="213" y1="498" x2="217.1" y2="498" stroke="#888" stroke-width="0.8" opacity="0.38"/>
<line x1="235" y1="495.2" x2="242.4" y2="494.9" stroke="#888" stroke-width="0.8" opacity="0.26"/>
<line x1="259.8" y1="497.8" x2="270.6" y2="498.1" stroke="#888" stroke-width="0.8" opacity="0.44"/>
<line x1="289.3" y1="499.1" x2="304.9" y2="499" stroke="#888" stroke-width="0.8" opacity="0.37"/>
<line x1="319" y1="498.4" x2="332.1" y2="498.7" stroke="#888" stroke-width="0.8" opacity="0.42"/>
<line x1="348.8" y1="497.6" x2="355.9" y2="497.8" stroke="#888" stroke-width="0.8" opacity="0.21"/>
<line x1="364.7" y1="499.3" x2="368.9" y2="499" stroke="#888" stroke-width="0.8" opacity="0.41"/>
<line x1="375.6" y1="498.4" x2="389.4" y2="498.7" stroke="#888" stroke-width="0.8" opacity="0.20"/>
<line x1="36.5" y1="339.6" x2="392" y2="339.6" stroke="#6f8fd0" stroke-width="1.4" />
<path d="M56.2 343.8C58.8 343.7 66.5 343.4 71.5 343C76.5 342.6 75.5 341.9 86.1 341.6C96.7 341.3 123.1 341.5 135 341.4C146.9 341.3 151.2 341.1 157.7 341.1C164.2 341.1 169.2 340.9 173.8 341.6C178.4 342.3 182.1 343.6 185.5 345.2C188.9 346.8 191.8 349.6 194.2 351.1C196.6 352.6 198.1 353.3 200 354C201.9 354.7 200.9 354.9 205.9 355.1C210.9 355.3 221.9 355.3 230 355.4C238.1 355.4 244.8 355.6 254.2 355.4C263.6 355.2 274.5 354.4 286.3 354C298.1 353.6 313.8 352.9 325 352.8C336.2 352.7 348.8 353.1 353.5 353.1" fill="none" stroke="#ecdc50" stroke-width="1.1" />
<path d="M54 348.6C55.7 348.7 60.6 349.1 64.2 349.3C67.9 349.5 73.5 349.5 75.9 349.6C78.3 349.7 76.4 350.1 78.8 350C81.2 349.9 87.3 349.4 90.5 349.2C93.7 349 90.4 348.7 97.8 348.9C105.2 349.1 127.2 350.2 135 350.3C142.8 350.4 140.8 349.6 144.6 349.3C148.4 349 155.5 348.7 157.7 348.6" fill="none" stroke="#cc66bb" stroke-width="1.1" />
<path d="M162.1 351.1L175.3 351.4" fill="none" stroke="#cc66bb" stroke-width="1.1" />
<path d="M179.6 353.2L191.3 359.1" fill="none" stroke="#cc66bb" stroke-width="1.1" />
<path d="M197.2 358.6C198.9 358.7 201.9 359.3 207.4 359.1C212.9 358.9 219.8 358 230 357.6C240.2 357.2 259.4 357.3 268.8 356.9C278.2 356.5 278.5 355.5 286.3 355.4C294.1 355.3 309.8 356.2 315.5 356.2C321.2 356.2 319.9 355.5 320.8 355.4" fill="none" stroke="#cc66bb" stroke-width="1.1" />
<path d="M324.3 356.6C327.6 356.2 338 354.5 344.2 354.3C350.4 354.1 353.9 354.8 361.7 355.4C369.5 356 386 357.4 390.9 357.8" fill="none" stroke="#cc66bb" stroke-width="1.1" />
<path d="M322 343.8C324.7 343.6 331.8 342.9 338.4 342.6C345 342.3 353.1 341.8 361.7 342C370.3 342.2 385.3 343.5 390 343.8" fill="none" stroke="#a8a860" stroke-width="0.9" stroke-dasharray="1.2 1.8"/>
<path d="M321.4 345.3C324.2 346 331.7 348.3 338.4 349.6C345.1 350.9 352.9 351.7 361.7 353.1C370.4 354.5 386 357 390.9 357.8" fill="none" stroke="#e23a2a" stroke-width="1.0" />
<path d="M341.3 343.8C342.8 344.5 345.6 346.4 350 347.8C354.4 349.2 360.8 350.8 367.6 352.5C374.4 354.2 387 356.9 390.9 357.8" fill="none" stroke="#e23a2a" stroke-width="1.0" />
<path d="M357.6 343.2C358.7 344 361.1 346.1 364.1 347.8C367.1 349.5 371.2 351.4 375.7 353.1C380.2 354.8 388.4 357 390.9 357.8" fill="none" stroke="#e23a2a" stroke-width="1.0" />
<path d="M367 343.8C368.1 344.5 370.4 346 373.4 347.8C376.4 349.6 382.1 353.2 385 354.9C387.9 356.6 389.9 357.3 390.9 357.8" fill="none" stroke="#e23a2a" stroke-width="1.0" />
<path d="M157.7 342.3C158.3 343.8 159 346.7 161.4 351.1C163.8 355.5 168.7 362.3 172.3 368.6C176 374.9 181.5 385.6 183.3 389" fill="none" stroke="#333" stroke-width="1" />
<path d="M178.2 344.5C178.6 346.6 179.8 354 180.4 356.9C181 359.8 180.8 360.1 181.8 362C182.8 363.9 185.5 367.5 186.2 368.6" fill="none" stroke="#333" stroke-width="1" />
<path d="M197.4 355.4C196.4 357.1 193.7 361.1 191.3 365.7C189 370.3 184.6 380.3 183.3 383.2" fill="none" stroke="#333" stroke-width="1" />
<line x1="183.3" y1="383" x2="183.3" y2="396.3" stroke="#333" stroke-width="1" />
<path d="M207.4 359.8C206.9 361 206 364.2 204.5 367.1C203 370 201.5 373.4 198.6 377.3C195.7 381.2 188.8 388.3 186.9 390.5" fill="none" stroke="#333" stroke-width="1" />
<line x1="230" y1="369.3" x2="205.2" y2="398.5" stroke="#333" stroke-width="1" />
<path d="M235.2 357.6C234.7 359 234 362.8 232.3 365.7C230.6 368.6 226.2 373.5 225 375.1" fill="none" stroke="#333" stroke-width="1" />
<line x1="286.3" y1="355.4" x2="291.4" y2="365.7" stroke="#333" stroke-width="1" />
<line x1="94.1" y1="348.9" x2="84.6" y2="369.3" stroke="#333" stroke-width="1" />
<line x1="323.2" y1="356" x2="333.7" y2="368.9" stroke="#333" stroke-width="1" />
<circle cx="178.2" cy="393.4" r="2.4" fill="none" stroke="#444" stroke-width="0.7"/><circle cx="178.2" cy="393.4" r="0.6" fill="#444"/>
<circle cx="187.4" cy="393.4" r="2.4" fill="none" stroke="#444" stroke-width="0.7"/><path d="M185.8 391.8L189 395M189 391.8L185.8 395" stroke="#444" stroke-width="0.6"/>
<path d="M37 355.1C37.3 353.8 37.9 349.1 39 347C40.1 344.9 42 343.4 43.8 342.5C45.6 341.6 48.3 341.8 50 341.8C51.7 341.8 52.9 342 54 342.3C55.1 342.6 57.1 342.7 56.9 343.8C56.6 344.9 54.7 347.4 52.5 348.9C50.3 350.3 46.4 351.5 43.8 352.5C41.2 353.5 38.1 354.7 37 355.1" fill="none" stroke="#333" stroke-width="0.9" />
<path d="M37 355.4C38.1 355.6 41.8 356 43.8 356.9C45.8 357.8 47.6 359.4 48.9 360.5C50.2 361.6 51 363 51.4 363.5" fill="none" stroke="#333" stroke-width="0.9" />
<path d="M55.3 421.8C55.5 419.5 56.1 411.8 56.5 408C56.9 404.2 56.9 401.4 57.9 399.3C58.9 397.2 61.2 395.5 62.7 395.5C64.2 395.5 66 396.9 66.9 399.3C67.8 401.7 67.4 406.2 68 410C68.6 413.8 70.2 419.8 70.7 421.8" fill="none" stroke="#333" stroke-width="0.7" stroke-dasharray="2.5 0.8"/>
<path d="M57.3 486.7C57.4 484.9 57.6 478.9 58 476C58.4 473.1 58.7 470.5 59.5 469C60.3 467.5 61.4 466.7 62.6 467C63.8 467.3 65.6 469.2 66.5 471C67.4 472.8 67.1 475.2 67.8 478C68.5 480.8 70 486.3 70.5 488" fill="none" stroke="#333" stroke-width="0.7" stroke-dasharray="2.5 0.8"/>
<path d="M58.8 412H61.2M60 410.8V413.2" stroke="#333" stroke-width="0.6"/>
<path d="M63.8 416H66.2M65 414.8V417.2" stroke="#333" stroke-width="0.6"/>
<path d="M61.8 404H64.2M63 402.8V405.2" stroke="#333" stroke-width="0.6"/>
<path d="M62.8 482H65.2M64 480.8V483.2" stroke="#333" stroke-width="0.6"/>
<path d="M59.8 478H62.2M61 476.8V479.2" stroke="#333" stroke-width="0.6"/>
<path d="M65.8 484H68.2M67 482.8V485.2" stroke="#333" stroke-width="0.6"/>
<circle cx="42" cy="346" r="0.6" fill="#333"/>
<circle cx="46" cy="350" r="0.6" fill="#333"/>
<circle cx="49" cy="345" r="0.6" fill="#333"/>
<circle cx="41" cy="351" r="0.6" fill="#333"/>
<circle cx="44" cy="359" r="0.6" fill="#333"/>
<circle cx="47" cy="364" r="0.6" fill="#333"/>
<circle cx="60" cy="402" r="0.6" fill="#333"/>
<circle cx="63" cy="410" r="0.6" fill="#333"/>
<circle cx="66" cy="417" r="0.6" fill="#333"/>
<circle cx="61" cy="416" r="0.6" fill="#333"/>
<circle cx="62" cy="478" r="0.6" fill="#333"/>
<circle cx="65" cy="483" r="0.6" fill="#333"/>
<circle cx="60" cy="483" r="0.6" fill="#333"/>
<path d="M37 451.2C40.2 449.9 49.8 444.3 56 443.4C62.2 442.5 71.3 445.6 74.4 446" fill="none" stroke="#f0a040" stroke-width="1.3" stroke-dasharray="1.2 1.8"/>
<path d="M84.9 450.4C88.9 450.9 100.9 452.7 108.6 453.3C116.3 453.9 127.2 453.8 130.9 453.9" fill="none" stroke="#f0a040" stroke-width="1.3" stroke-dasharray="1.2 1.8"/>
<path d="M145.4 450.4L169 447.3" fill="none" stroke="#f0a040" stroke-width="1.3" stroke-dasharray="1.2 1.8"/>
<path d="M191.3 446.8L205.8 448.1" fill="none" stroke="#f0a040" stroke-width="1.3" stroke-dasharray="1.2 1.8"/>
<path d="M226.2 454.8C228.9 455.2 236.1 456.9 242.4 457.3C248.7 457.7 260.4 457.3 264 457.3" fill="none" stroke="#f0a040" stroke-width="1.3" stroke-dasharray="1.2 1.8"/>
<path d="M276.2 456.2C279.6 456.1 289.9 455.5 296.4 455.6C302.9 455.7 309.4 455.8 315.3 456.7C321.2 457.6 324.3 458.6 331.5 460.8C338.7 463.1 348.8 467.4 358.5 470.2C368.2 473 384.4 476.3 389.6 477.5" fill="none" stroke="#f0a040" stroke-width="1.3" stroke-dasharray="1.2 1.8"/>
<path d="M37 467L48.1 461.7" fill="none" stroke="#9aa050" stroke-width="1.1" stroke-dasharray="1.2 1.8"/>
<path d="M58.6 462.5C63.4 463.4 79.2 465.9 87.5 467.8C95.8 469.7 101.4 472.3 108.6 473.6C115.8 474.9 127.2 475.4 130.9 475.7" fill="none" stroke="#9aa050" stroke-width="1.1" stroke-dasharray="1.2 1.8"/>
<path d="M154.5 468.8C159.1 468.3 172.2 466.2 182.1 465.7C192 465.2 208.4 465.7 213.7 465.7" fill="none" stroke="#9aa050" stroke-width="1.1" stroke-dasharray="1.2 1.8"/>
<path d="M227.6 472.4L253.2 478.9" fill="none" stroke="#9aa050" stroke-width="1.1" stroke-dasharray="1.2 1.8"/>
<path d="M274.8 476.2L318 483.2" fill="none" stroke="#9aa050" stroke-width="1.1" stroke-dasharray="1.2 1.8"/>
<path d="M349.1 489.1L385.5 497.8" fill="none" stroke="#9aa050" stroke-width="1.1" stroke-dasharray="1.2 1.8"/>
<path d="M37 483.6L53.4 473.6" fill="none" stroke="#dd2a2a" stroke-width="1.7" stroke-dasharray="1.2 1.8"/>
<path d="M74.4 471.5C77.9 472.5 88 475.9 95.4 477.5C102.9 479.1 115.1 480.3 119.1 480.9" fill="none" stroke="#dd2a2a" stroke-width="1.7" stroke-dasharray="1.2 1.8"/>
<path d="M137.5 479.3L165.1 474.9" fill="none" stroke="#dd2a2a" stroke-width="1.7" stroke-dasharray="1.2 1.8"/>
<path d="M172.9 473.6C176.2 473.2 185.8 471.3 192.6 471.5C199.4 471.7 210.2 474.3 213.7 474.9" fill="none" stroke="#dd2a2a" stroke-width="1.7" stroke-dasharray="1.2 1.8"/>
<path d="M226.2 478.3C229.3 479 238.8 481.4 245.1 482.4C251.4 483.4 256.4 483.9 264 484.3C271.6 484.8 283.4 484.5 291 485.1C298.6 485.7 304.5 486.7 309.9 487.8C315.3 488.9 321.1 491.1 323.4 491.8" fill="none" stroke="#dd2a2a" stroke-width="1.7" stroke-dasharray="1.2 1.8"/>
<path d="M364.5 505.5L391.4 516.6" fill="none" stroke="#dd2a2a" stroke-width="1.7" stroke-dasharray="1.2 1.8"/>
<rect x="35.8" y="338" width="356.5" height="253.8" fill="none" stroke="#808080" stroke-width="1.4" />
<line x1="30.5" y1="338" x2="36" y2="338" stroke="#333" stroke-width="1" />
<text x="30" y="341" font-size="8.3" text-anchor="end" font-weight="normal" fill="#222" >0</text>
<line x1="30.5" y1="413.4" x2="36" y2="413.4" stroke="#333" stroke-width="1" />
<text x="30" y="416.4" font-size="8.3" text-anchor="end" font-weight="normal" fill="#222" >-10</text>
<line x1="30.5" y1="487.2" x2="36" y2="487.2" stroke="#333" stroke-width="1" />
<text x="30" y="490.2" font-size="8.3" text-anchor="end" font-weight="normal" fill="#222" >-20</text>
<line x1="30.5" y1="562" x2="36" y2="562" stroke="#333" stroke-width="1" />
<text x="30" y="565" font-size="8.3" text-anchor="end" font-weight="normal" fill="#222" >-30</text>
<line x1="29.8" y1="375.5" x2="36" y2="375.5" stroke="#333" stroke-width="1.3" />
<line x1="29.8" y1="453" x2="36" y2="453" stroke="#333" stroke-width="1.3" />
<line x1="29.8" y1="527.8" x2="36" y2="527.8" stroke="#333" stroke-width="1.3" />
<text x="0" y="0" font-size="8" text-anchor="middle" fill="#222" transform="translate(15.2,456.8) rotate(-90)">Depth (km)</text>
<line x1="48.9" y1="519.5" x2="68" y2="519.5" stroke="#4d6fb8" stroke-width="1.1" />
<text x="71.5" y="521.8" font-size="6.5" text-anchor="start" font-weight="normal" fill="#222" >Seabed</text>
<line x1="48.9" y1="531.5" x2="68" y2="531.5" stroke="#9aa070" stroke-width="1.1" />
<text x="71.5" y="533.8" font-size="6.5" text-anchor="start" font-weight="normal" fill="#222" >Top of GTS</text>
<line x1="48.9" y1="542.5" x2="68" y2="542.5" stroke="#e2d43c" stroke-width="1.1" />
<text x="71.5" y="544.8" font-size="6.5" text-anchor="start" font-weight="normal" fill="#222" >Top of Miocene deposits</text>
<line x1="48.9" y1="553" x2="68" y2="553" stroke="#c890c8" stroke-width="1.1" />
<text x="71.5" y="555.3" font-size="6.5" text-anchor="start" font-weight="normal" fill="#222" >Top of Mesozoic carbonates</text>
<line x1="153.3" y1="519.5" x2="173" y2="519.5" stroke="#f0a040" stroke-width="1.4" stroke-dasharray="1.2 1.8"/>
<text x="179" y="521.8" font-size="6.5" text-anchor="start" font-weight="normal" fill="#222" >Top of crystalline basement</text>
<line x1="153.3" y1="531" x2="173" y2="531" stroke="#8a9040" stroke-width="1.4" stroke-dasharray="1.2 1.8"/>
<text x="179" y="533.3" font-size="6.5" text-anchor="start" font-weight="normal" fill="#222" >Top of the lower crust</text>
<line x1="153.3" y1="542.5" x2="173" y2="542.5" stroke="#dd2a2a" stroke-width="1.4" stroke-dasharray="1.2 1.8"/>
<text x="179" y="544.8" font-size="6.5" text-anchor="start" font-weight="normal" fill="#222" >Moho</text>
<rect x="154" y="549.7" width="20.3" height="10.5" fill="none" stroke="#444" stroke-width="0.7" />
<circle cx="157" cy="552" r="0.5" fill="#333"/>
<circle cx="162" cy="551" r="0.5" fill="#333"/>
<circle cx="168" cy="553" r="0.5" fill="#333"/>
<circle cx="159" cy="557" r="0.5" fill="#333"/>
<circle cx="165" cy="557" r="0.5" fill="#333"/>
<circle cx="171" cy="556" r="0.5" fill="#333"/>
<text x="179" y="555.3" font-size="6.5" text-anchor="start" font-weight="normal" fill="#222" >Volcanic intrusion</text>
<line x1="274.5" y1="524.6" x2="289" y2="530.6" stroke="#e05040" stroke-width="1" />
<text x="293.3" y="529.5" font-size="6.5" text-anchor="start" font-weight="normal" fill="#222" >Thrust</text>
<circle cx="276" cy="537.5" r="2.2" fill="none" stroke="#444" stroke-width="0.6"/><circle cx="276" cy="537.5" r="0.5" fill="#444"/>
<line x1="280" y1="534.5" x2="280" y2="541" stroke="#444" stroke-width="0.7" />
<circle cx="284.3" cy="537.5" r="2.2" fill="none" stroke="#444" stroke-width="0.6"/><path d="M283 536.2L285.6 538.8M285.6 536.2L283 538.8" stroke="#444" stroke-width="0.5"/>
<text x="293.3" y="540.3" font-size="6.5" text-anchor="start" font-weight="normal" fill="#222" >Strike slip fault</text>
<line x1="277" y1="551" x2="289" y2="546.5" stroke="#333" stroke-width="1" />
<text x="293.3" y="550.5" font-size="6.5" text-anchor="start" font-weight="normal" fill="#222" >Normal fault</text>
<rect x="40.2" y="578.3" width="49.8" height="3.2" fill="#000" stroke="none" stroke-width="1" />
<rect x="90" y="578.3" width="49" height="3.2" fill="#fff" stroke="#444" stroke-width="0.6" />
<text x="39.5" y="575.7" font-size="6.3" text-anchor="start" font-weight="normal" fill="#222" >0</text>
<text x="88" y="575.7" font-size="6.3" text-anchor="start" font-weight="normal" fill="#222" >10</text>
<text x="137.6" y="575.7" font-size="6.3" text-anchor="start" font-weight="normal" fill="#222" >20 km</text>
<text x="423.5" y="10.3" font-size="12.5" text-anchor="start" font-weight="bold" fill="#000" font-family="Liberation Sans, sans-serif">c</text>
<text x="438.8" y="27.3" font-size="10.3" text-anchor="start" font-weight="normal" fill="#222" >NW</text>
<text x="557.3" y="28.6" font-size="10.3" text-anchor="middle" font-weight="normal" fill="#222" >M23</text>
<text x="669" y="27.3" font-size="10.3" text-anchor="end" font-weight="normal" fill="#222" >SE</text>
<g clip-path="url(#cp1)"><rect x="453" y="-7.700000000000003" width="207.5" height="228.0" filter="url(#fc1a)" transform="translate(556.7 106.30000000000001) skewY(-10) translate(-556.7 -106.30000000000001)"/><rect x="453" y="-7.700000000000003" width="207.5" height="228.0" filter="url(#fc1b)" transform="translate(556.7 106.30000000000001) skewY(9) translate(-556.7 -106.30000000000001)" style="mix-blend-mode:darken"/></g>
<line x1="453" y1="32.3" x2="660.5" y2="32.3" stroke="#2e2e3a" stroke-width="0.9" opacity="0.85"/>
<line x1="453" y1="46.7" x2="660.5" y2="46.7" stroke="#2e2e3a" stroke-width="0.9" opacity="0.85"/>
<line x1="453" y1="62" x2="660.5" y2="62" stroke="#2e2e3a" stroke-width="0.9" opacity="0.85"/>
<line x1="453" y1="77.3" x2="660.5" y2="77.3" stroke="#2e2e3a" stroke-width="0.9" opacity="0.85"/>
<line x1="453" y1="92.2" x2="660.5" y2="92.2" stroke="#2e2e3a" stroke-width="0.9" opacity="0.85"/>
<line x1="453" y1="107.4" x2="660.5" y2="107.4" stroke="#2e2e3a" stroke-width="0.9" opacity="0.85"/>
<line x1="453" y1="122.4" x2="660.5" y2="122.4" stroke="#2e2e3a" stroke-width="0.9" opacity="0.85"/>
<line x1="453" y1="137.2" x2="660.5" y2="137.2" stroke="#2e2e3a" stroke-width="0.9" opacity="0.85"/>
<line x1="453" y1="151.8" x2="660.5" y2="151.8" stroke="#2e2e3a" stroke-width="0.9" opacity="0.85"/>
<line x1="453" y1="166.4" x2="660.5" y2="166.4" stroke="#2e2e3a" stroke-width="0.9" opacity="0.85"/>
<line x1="453" y1="180.3" x2="660.5" y2="180.3" stroke="#2e2e3a" stroke-width="0.9" opacity="0.85"/>
<line x1="449.5" y1="32.3" x2="453" y2="32.3" stroke="#333" stroke-width="1" />
<text x="450.2" y="36.199999999999996" font-size="10.8" text-anchor="end" font-weight="normal" fill="#222" >11</text>
<line x1="449.5" y1="106.3" x2="453" y2="106.3" stroke="#333" stroke-width="1" />
<text x="450.2" y="110.2" font-size="10.8" text-anchor="end" font-weight="normal" fill="#222" >12</text>
<line x1="449.5" y1="180.3" x2="453" y2="180.3" stroke="#333" stroke-width="1" />
<text x="450.2" y="184.20000000000002" font-size="10.8" text-anchor="end" font-weight="normal" fill="#222" >13</text>
<text x="439.8" y="211.6" font-size="10.3" text-anchor="start" font-weight="normal" fill="#222" >SSW</text>
<text x="558" y="213.4" font-size="10.3" text-anchor="middle" font-weight="normal" fill="#222" >M24</text>
<text x="667" y="211.6" font-size="10.3" text-anchor="end" font-weight="normal" fill="#222" >NNE</text>
<g clip-path="url(#cp2)"><rect x="453" y="176.2" width="207.5" height="227.10000000000002" filter="url(#fc2a)" transform="translate(556.7 289.75) skewY(-10) translate(-556.7 -289.75)"/><rect x="453" y="176.2" width="207.5" height="227.10000000000002" filter="url(#fc2b)" transform="translate(556.7 289.75) skewY(9) translate(-556.7 -289.75)" style="mix-blend-mode:darken"/></g>
<line x1="453" y1="216.2" x2="660.5" y2="216.2" stroke="#2e2e3a" stroke-width="0.9" opacity="0.6"/>
<line x1="453" y1="230.91" x2="660.5" y2="230.91" stroke="#2e2e3a" stroke-width="0.9" opacity="0.6"/>
<line x1="453" y1="245.62" x2="660.5" y2="245.62" stroke="#2e2e3a" stroke-width="0.9" opacity="0.6"/>
<line x1="453" y1="260.33" x2="660.5" y2="260.33" stroke="#2e2e3a" stroke-width="0.9" opacity="0.6"/>
<line x1="453" y1="275.04" x2="660.5" y2="275.04" stroke="#2e2e3a" stroke-width="0.9" opacity="0.6"/>
<line x1="453" y1="289.75" x2="660.5" y2="289.75" stroke="#2e2e3a" stroke-width="0.9" opacity="0.6"/>
<line x1="453" y1="304.46000000000004" x2="660.5" y2="304.46000000000004" stroke="#2e2e3a" stroke-width="0.9" opacity="0.6"/>
<line x1="453" y1="319.17" x2="660.5" y2="319.17" stroke="#2e2e3a" stroke-width="0.9" opacity="0.6"/>
<line x1="453" y1="333.88" x2="660.5" y2="333.88" stroke="#2e2e3a" stroke-width="0.9" opacity="0.6"/>
<line x1="453" y1="348.59000000000003" x2="660.5" y2="348.59000000000003" stroke="#2e2e3a" stroke-width="0.9" opacity="0.6"/>
<line x1="453" y1="363.3" x2="660.5" y2="363.3" stroke="#2e2e3a" stroke-width="0.9" opacity="0.6"/>
<line x1="449.5" y1="216.2" x2="453" y2="216.2" stroke="#333" stroke-width="1" />
<text x="450.2" y="220.1" font-size="10.8" text-anchor="end" font-weight="normal" fill="#222" >11</text>
<line x1="449.5" y1="289.75" x2="453" y2="289.75" stroke="#333" stroke-width="1" />
<text x="450.2" y="293.65" font-size="10.8" text-anchor="end" font-weight="normal" fill="#222" >12</text>
<line x1="449.5" y1="363.3" x2="453" y2="363.3" stroke="#333" stroke-width="1" />
<text x="450.2" y="367.2" font-size="10.8" text-anchor="end" font-weight="normal" fill="#222" >13</text>
<text x="439.8" y="408.5" font-size="10.3" text-anchor="start" font-weight="normal" fill="#222" >SSW</text>
<text x="560.7" y="411.1" font-size="10.3" text-anchor="middle" font-weight="normal" fill="#222" >M25</text>
<text x="667" y="408.5" font-size="10.3" text-anchor="end" font-weight="normal" fill="#222" >NNE</text>
<g clip-path="url(#cp3)"><rect x="453" y="375.1" width="207.5" height="228.89999999999998" filter="url(#fc3a)" transform="translate(556.7 489.55) skewY(-10) translate(-556.7 -489.55)"/><rect x="453" y="375.1" width="207.5" height="228.89999999999998" filter="url(#fc3b)" transform="translate(556.7 489.55) skewY(9) translate(-556.7 -489.55)" style="mix-blend-mode:darken"/></g>
<line x1="453" y1="415.1" x2="660.5" y2="415.1" stroke="#2e2e3a" stroke-width="0.9" opacity="0.5"/>
<line x1="453" y1="429.99" x2="660.5" y2="429.99" stroke="#2e2e3a" stroke-width="0.9" opacity="0.5"/>
<line x1="453" y1="444.88" x2="660.5" y2="444.88" stroke="#2e2e3a" stroke-width="0.9" opacity="0.5"/>
<line x1="453" y1="459.77000000000004" x2="660.5" y2="459.77000000000004" stroke="#2e2e3a" stroke-width="0.9" opacity="0.5"/>
<line x1="453" y1="474.66" x2="660.5" y2="474.66" stroke="#2e2e3a" stroke-width="0.9" opacity="0.5"/>
<line x1="453" y1="489.55" x2="660.5" y2="489.55" stroke="#2e2e3a" stroke-width="0.9" opacity="0.5"/>
<line x1="453" y1="504.44" x2="660.5" y2="504.44" stroke="#2e2e3a" stroke-width="0.9" opacity="0.5"/>
<line x1="453" y1="519.33" x2="660.5" y2="519.33" stroke="#2e2e3a" stroke-width="0.9" opacity="0.5"/>
<line x1="453" y1="534.22" x2="660.5" y2="534.22" stroke="#2e2e3a" stroke-width="0.9" opacity="0.5"/>
<line x1="453" y1="549.11" x2="660.5" y2="549.11" stroke="#2e2e3a" stroke-width="0.9" opacity="0.5"/>
<line x1="453" y1="564.0" x2="660.5" y2="564.0" stroke="#2e2e3a" stroke-width="0.9" opacity="0.5"/>
<line x1="449.5" y1="415.1" x2="453" y2="415.1" stroke="#333" stroke-width="1" />
<text x="450.2" y="419.0" font-size="10.8" text-anchor="end" font-weight="normal" fill="#222" >9</text>
<line x1="449.5" y1="489.55" x2="453" y2="489.55" stroke="#333" stroke-width="1" />
<text x="450.2" y="493.45" font-size="10.8" text-anchor="end" font-weight="normal" fill="#222" >10</text>
<line x1="449.5" y1="564.0" x2="453" y2="564.0" stroke="#333" stroke-width="1" />
<text x="450.2" y="567.9" font-size="10.8" text-anchor="end" font-weight="normal" fill="#222" >11</text>
<line x1="514.3" y1="216.5" x2="514.3" y2="363" stroke="#e6dede" stroke-width="1" opacity="0.75"/>
<text x="0" y="0" font-size="10.6" text-anchor="middle" fill="#222" transform="translate(431.4,106.8) rotate(-90)">s/TWT</text>
<text x="0" y="0" font-size="10.6" text-anchor="middle" fill="#222" transform="translate(431.4,291.40000000000003) rotate(-90)">s/TWT</text>
<text x="0" y="0" font-size="10.6" text-anchor="middle" fill="#222" transform="translate(431.4,490.6) rotate(-90)">s/TWT</text>
<path d="M504 88.2V105" stroke="#f2e400" stroke-width="1.9"/><path d="M501.5 103.5L504 110L506.5 103.5Z" fill="#f2e400"/>
<path d="M549.1 97.5V114.3" stroke="#f2e400" stroke-width="1.9"/><path d="M546.6 112.8L549.1 119.3L551.6 112.8Z" fill="#f2e400"/>
<path d="M568.3 102.2V119" stroke="#f2e400" stroke-width="1.9"/><path d="M565.8 117.5L568.3 124L570.8 117.5Z" fill="#f2e400"/>
<path d="M608.5 106.9V122.9" stroke="#f2e400" stroke-width="1.9"/><path d="M606 121.4L608.5 127.9L611 121.4Z" fill="#f2e400"/>
<path d="M634.4 99.9V117" stroke="#f2e400" stroke-width="1.9"/><path d="M631.9 115.5L634.4 122L636.9 115.5Z" fill="#f2e400"/>
<path d="M613.4 129.5L620.4 136.5M620.4 129.5L613.4 136.5" stroke="#ee1111" stroke-width="2.2"/>
<path d="M538.8 289.8V305.7" stroke="#f2e400" stroke-width="1.9"/><path d="M536.3 304.2L538.8 310.7L541.3 304.2Z" fill="#f2e400"/>
<path d="M576.7 298.3V314.6" stroke="#f2e400" stroke-width="1.9"/><path d="M574.2 313.1L576.7 319.6L579.2 313.1Z" fill="#f2e400"/>
<path d="M601 309.1V325" stroke="#f2e400" stroke-width="1.9"/><path d="M598.5 323.5L601 330L603.5 323.5Z" fill="#f2e400"/>
<path d="M561.5 313.0L568.5 320.0M568.5 313.0L561.5 320.0" stroke="#ee1111" stroke-width="2.2"/>
<path d="M482.7 443.4V459.3" stroke="#f2e400" stroke-width="1.9"/><path d="M480.2 457.8L482.7 464.3L485.2 457.8Z" fill="#f2e400"/>
<path d="M513.6 448V464.3" stroke="#f2e400" stroke-width="1.9"/><path d="M511.1 462.8L513.6 469.3L516.1 462.8Z" fill="#f2e400"/>
<path d="M563.9 456.5V473.2" stroke="#f2e400" stroke-width="1.9"/><path d="M561.4 471.7L563.9 478.2L566.4 471.7Z" fill="#f2e400"/>
<path d="M610.7 479.7V496" stroke="#f2e400" stroke-width="1.9"/><path d="M608.2 494.5L610.7 501L613.2 494.5Z" fill="#f2e400"/>
<path d="M546.1 473.5L553.1 480.5M553.1 473.5L546.1 480.5" stroke="#ee1111" stroke-width="2.2"/>
<rect x="504" y="190" width="41.700000000000045" height="4.4" fill="#000" stroke="none" stroke-width="1" />
<rect x="545.7" y="190" width="41.299999999999955" height="4.4" fill="#fff" stroke="#999" stroke-width="0.8" />
<text x="503" y="188.6" font-size="8" text-anchor="start" font-weight="normal" fill="#222" >0</text>
<text x="584.2" y="188.6" font-size="8" text-anchor="start" font-weight="normal" fill="#222" >4 km</text>
<rect x="500.5" y="375.4" width="57.200000000000045" height="4.6" fill="#000" stroke="none" stroke-width="1" />
<rect x="557.7" y="375.4" width="57.69999999999993" height="4.6" fill="#fff" stroke="#ddd" stroke-width="0.8" />
<text x="498.7" y="374.2" font-size="7.2" text-anchor="start" font-weight="normal" fill="#222" >0</text>
<text x="609.8" y="374.2" font-size="7.2" text-anchor="start" font-weight="normal" fill="#222" >3 km</text>
<rect x="494.8" y="574.9" width="57.599999999999966" height="4.5" fill="#000" stroke="none" stroke-width="1" />
<rect x="552.4" y="574.9" width="57.80000000000007" height="4.5" fill="#fff" stroke="#bbb" stroke-width="0.8" />
<text x="492.6" y="573.6" font-size="7.2" text-anchor="start" font-weight="normal" fill="#222" >0</text>
<text x="604.2" y="573.6" font-size="7.2" text-anchor="start" font-weight="normal" fill="#222" >3 km</text></svg>
</body></html>
